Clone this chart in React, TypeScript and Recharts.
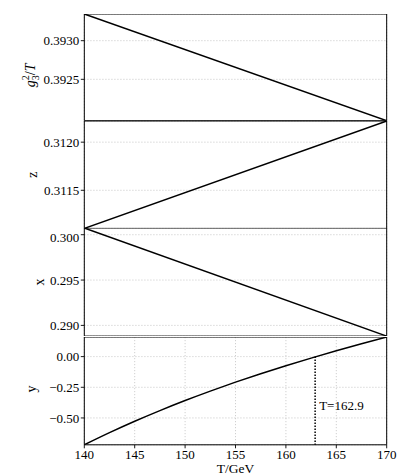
import React from "react";
import {
  LineChart,
  Line,
  XAxis,
  YAxis,
  CartesianGrid,
  ReferenceArea,
  ReferenceLine,
  ReferenceDot,
} from "recharts";

// temperature range, the three straight quantities only need the two ends
const T_ENDS = [140, 170];
const G3SQ_OVER_T = [0.393345, 0.391965];
const Z_VALUES = [0.311104, 0.31222];
const X_VALUES = [0.30074, 0.28882];

const T_CURVE = [140, 142.5, 145, 147.5, 150, 152.5, 155, 157.5, 160, 162.5, 165, 167.5, 170];
const Y_VALUES = [-0.719, -0.62, -0.527, -0.44, -0.358, -0.281, -0.208, -0.139, -0.074, -0.012, 0.048, 0.105, 0.16];

const T_TICKS = [140, 145, 150, 155, 160, 165, 170];
const G_TICKS = [0.392, 0.3925, 0.393];
const Z_TICKS = [0.3115, 0.312];
const X_TICKS = [0.29, 0.295, 0.3];
const Y_TICKS = [-0.5, -0.25, 0];

const T_CROSS = 162.9;

const FONT = "Liberation Serif";
const W = 415;
const H = 475;
const PLOT_LEFT = 84.3;
const PLOT_RIGHT = 386.7;
// panel edges, top to bottom
const EDGES = [14.3, 121, 228.4, 336.5, 444.3];

const toRows = (xs: number[], ys: number[]) => xs.map((t, i) => ({ t, v: ys[i] }));

const XTick = (p: any) => (
  <text
    x={p.x}
    y={p.y}
    dy="0.71em"
    textAnchor="middle"
    fontSize={13}
    fill="#000"
    fontFamily={FONT}
    style={{ fontFamily: FONT }}
  >
    {p.payload.value}
  </text>
);

const makeYTick = (digits: number) => (p: any) => (
  <text
    x={p.x}
    y={p.y}
    dy="0.36em"
    textAnchor="end"
    fontSize={13}
    fill="#000"
    fontFamily={FONT}
    style={{ fontFamily: FONT }}
  >
    {Number(p.payload.value).toFixed(digits).replace("-", "\u2212")}
  </text>
);

type PanelProps = {
  index: number;
  xs: number[];
  ys: number[];
  ticks: number[];
  digits: number;
  title: React.ReactNode;
  titleX: number;
  titleShift?: number;
  children?: React.ReactNode;
};

function Panel({ index, xs, ys, ticks, digits, title, titleX, titleShift = 0, children }: PanelProps) {
  const top = EDGES[index];
  const plotH = EDGES[index + 1] - top;
  const last = index === EDGES.length - 2;
  const chartH = last ? H - top : plotH;
  const lo = Math.min(...ys);
  const hi = Math.max(...ys);

  return (
    <div style={{ position: "absolute", left: 0, top }}>
      <LineChart
        width={W}
        height={chartH}
        data={toRows(xs, ys)}
        margin={{ top: 0, right: W - PLOT_RIGHT, bottom: 0, left: 0 }}
        style={{ overflow: "visible", fontFamily: FONT }}
      >
        <CartesianGrid stroke="#c4c4c4" strokeDasharray="1.2 1.8" strokeWidth={0.8} />
        <XAxis
          dataKey="t"
          type="number"
          domain={[140, 170]}
          ticks={T_TICKS}
          height={last ? chartH - plotH : 0}
          axisLine={false}
          tick={last ? XTick : false}
          tickLine={last ? { stroke: "#000", strokeWidth: 0.9 } : false}
          tickSize={3.5}
          tickMargin={1.5}
          label={
            last
              ? () => (
                  <text
                    x={(PLOT_LEFT + PLOT_RIGHT) / 2}
                    y={chartH - 3}
                    textAnchor="middle"
                    fontFamily={FONT}
                    style={{ fontFamily: FONT }}
                    fontSize={13.5}
                    fill="#000"
                  >
                    T/GeV
                  </text>
                )
              : undefined
          }
        />
        <YAxis
          type="number"
          domain={[lo, hi]}
          ticks={ticks}
          width={PLOT_LEFT}
          axisLine={false}
          tick={makeYTick(digits)}
          tickLine={{ stroke: "#000", strokeWidth: 0.9 }}
          tickSize={3.5}
          tickMargin={1.5}
          allowDataOverflow
          label={() => {
            const cy = plotH / 2 + titleShift;
            return (
              <text
                x={titleX}
                y={cy}
                transform={`rotate(-90 ${titleX} ${cy})`}
                textAnchor="middle"
                fontFamily={FONT}
                style={{ fontFamily: FONT }}
                fontSize={14}
                fill="#000"
              >
                {title}
              </text>
            );
          }}
        />
        <ReferenceArea
          x1={140}
          x2={170}
          y1={lo}
          y2={hi}
          fill="none"
          fillOpacity={0}
          stroke="#000"
          strokeWidth={1}
          ifOverflow="visible"
        />
        {children}
        <Line
          type="monotone"
          dataKey="v"
          stroke="#000"
          strokeWidth={1.5}
          dot={false}
          isAnimationActive={false}
        />
      </LineChart>
    </div>
  );
}

export default function App() {
  return (
    <div
      style={{
        position: "absolute",
        left: 0,
        top: 0,
        width: W,
        height: H,
        background: "#fff",
        fontFamily: FONT,
      }}
    >
      <Panel
        index={0}
        xs={T_ENDS}
        ys={G3SQ_OVER_T}
        ticks={G_TICKS}
        digits={4}
        titleX={34.5}
        titleShift={8}
        title={
          <>
            <tspan fontStyle="italic">g</tspan>
            <tspan fontSize={10} dy={4}>3</tspan>
            <tspan fontSize={10} dx={-5} dy={-10}>2</tspan>
            <tspan dy={6}>/</tspan>
            <tspan fontStyle="italic">T</tspan>
          </>
        }
      />
      <Panel index={1} xs={T_ENDS} ys={Z_VALUES} ticks={Z_TICKS} digits={4} titleX={37} title="z" />
      <Panel index={2} xs={T_ENDS} ys={X_VALUES} ticks={X_TICKS} digits={3} titleX={43.5} title="x" />
      <Panel index={3} xs={T_CURVE} ys={Y_VALUES} ticks={Y_TICKS} digits={2} titleX={36.5} titleShift={-2} title="y">
        <ReferenceLine
          segment={[
            { x: T_CROSS, y: 0 },
            { x: T_CROSS, y: Math.min(...Y_VALUES) },
          ]}
          stroke="#000"
          strokeWidth={1.5}
          strokeDasharray="1.5 1.5"
          ifOverflow="visible"
        />
        <ReferenceDot
          x={T_CROSS}
          y={-0.4}
          r={0}
          fill="none"
          stroke="none"
          ifOverflow="visible"
          label={{ value: "T=162.9", position: "right", offset: 4, fill: "#000", fontSize: 13, style: { fontFamily: FONT } }}
        />
      </Panel>
    </div>
  );
}
